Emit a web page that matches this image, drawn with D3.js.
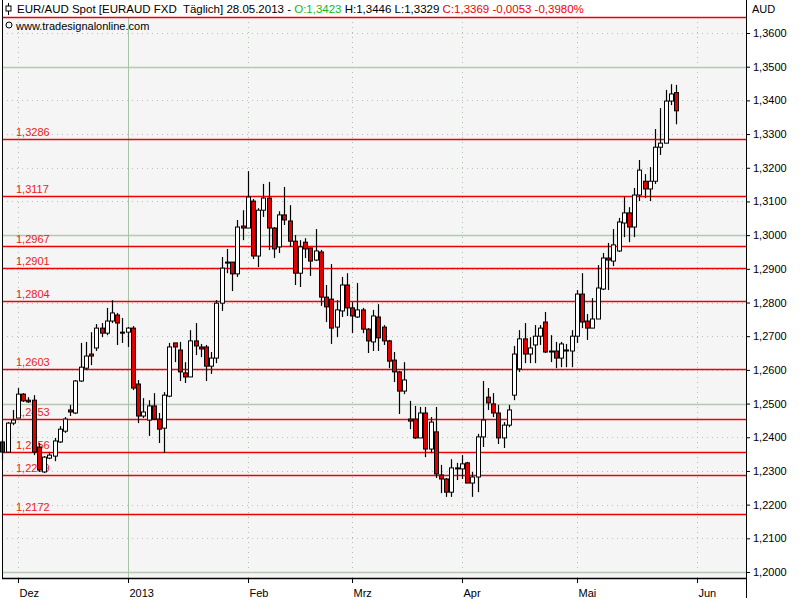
<!DOCTYPE html>
<html>
<head>
<meta charset="utf-8">
<script src="https://cdn.jsdelivr.net/npm/d3@7"></script>
<style>
  body { margin: 0; background: #fff; }
  svg { display: block; font-family: "Liberation Sans", Arial, sans-serif; }
</style>
</head>
<body>
<svg id="chart" width="800" height="600"></svg>
<script>
// daily candles EUR/AUD, 28.11.2012 .. 28.05.2013 (trading-day index)
const opens  = [1.2386,1.2356,1.2442,1.2457,1.2528,1.2510,1.2510,1.2371,1.2297,1.2338,1.2344,1.2386,1.2418,1.2481,1.2472,1.2567,1.2605,1.2647,1.2665,1.2724,1.2709,1.2745,1.2763,1.2712,1.2712,1.2724,1.2558,1.2463,1.2451,1.2493,1.2454,1.2427,1.2522,1.2680,1.2659,1.2591,1.2579,1.2686,1.2668,1.2668,1.2611,1.2635,1.2798,1.2920,1.2920,1.2885,1.3027,1.3021,1.3101,1.2938,1.3074,1.3110,1.3021,1.2965,1.3060,1.3042,1.2982,1.2887,1.2979,1.2962,1.2926,1.2950,1.2816,1.2810,1.2727,1.2775,1.2852,1.2784,1.2757,1.2778,1.2721,1.2683,1.2757,1.2727,1.2686,1.2629,1.2594,1.2537,1.2454,1.2454,1.2398,1.2472,1.2365,1.2416,1.2288,1.2276,1.2237,1.2309,1.2306,1.2324,1.2264,1.2282,1.2401,1.2519,1.2499,1.2472,1.2398,1.2436,1.2525,1.2603,1.2692,1.2647,1.2674,1.2700,1.2742,1.2656,1.2656,1.2635,1.2659,1.2656,1.2700,1.2825,1.2745,1.2724,1.2751,1.2840,1.2932,1.2923,1.2953,1.3036,1.3066,1.3024,1.3119,1.3160,1.3137,1.3160,1.3261,1.3273,1.3398,1.3423];
const highs  = [1.2392,1.2445,1.2481,1.2546,1.2531,1.2519,1.2525,1.2383,1.2344,1.2356,1.2398,1.2433,1.2460,1.2496,1.2570,1.2680,1.2683,1.2712,1.2736,1.2739,1.2784,1.2807,1.2769,1.2754,1.2727,1.2730,1.2570,1.2516,1.2510,1.2531,1.2472,1.2534,1.2680,1.2680,1.2683,1.2623,1.2718,1.2739,1.2677,1.2674,1.2653,1.2807,1.2935,1.2959,1.2920,1.3045,1.3074,1.3190,1.3107,1.3080,1.3152,1.3158,1.3024,1.3071,1.3143,1.3089,1.3000,1.2985,1.2991,1.2962,1.3018,1.2956,1.2852,1.2914,1.2807,1.2876,1.2887,1.2801,1.2858,1.2784,1.2724,1.2778,1.2795,1.2733,1.2689,1.2653,1.2597,1.2623,1.2508,1.2493,1.2490,1.2490,1.2460,1.2490,1.2318,1.2279,1.2335,1.2324,1.2347,1.2327,1.2297,1.2410,1.2567,1.2546,1.2531,1.2496,1.2445,1.2496,1.2671,1.2718,1.2739,1.2697,1.2733,1.2733,1.2772,1.2703,1.2683,1.2683,1.2677,1.2718,1.2837,1.2887,1.2766,1.2813,1.2911,1.2947,1.2977,1.3018,1.3051,1.3113,1.3083,1.3140,1.3223,1.3181,1.3202,1.3315,1.3377,1.3431,1.3448,1.3446];
const lows   = [1.2332,1.2356,1.2436,1.2457,1.2505,1.2502,1.2347,1.2297,1.2294,1.2335,1.2329,1.2383,1.2413,1.2463,1.2469,1.2564,1.2600,1.2614,1.2656,1.2697,1.2703,1.2739,1.2674,1.2680,1.2668,1.2540,1.2442,1.2457,1.2404,1.2451,1.2383,1.2353,1.2519,1.2623,1.2567,1.2561,1.2579,1.2644,1.2638,1.2567,1.2588,1.2620,1.2775,1.2887,1.2834,1.2876,1.2985,1.3021,1.2929,1.2905,1.3054,1.2956,1.2932,1.2947,1.3030,1.2965,1.2852,1.2846,1.2932,1.2879,1.2923,1.2790,1.2742,1.2677,1.2697,1.2757,1.2760,1.2709,1.2754,1.2709,1.2650,1.2656,1.2656,1.2674,1.2605,1.2564,1.2469,1.2528,1.2424,1.2395,1.2398,1.2341,1.2353,1.2279,1.2234,1.2223,1.2223,1.2273,1.2276,1.2264,1.2223,1.2237,1.2371,1.2481,1.2460,1.2380,1.2368,1.2430,1.2510,1.2594,1.2620,1.2620,1.2620,1.2674,1.2650,1.2623,1.2605,1.2608,1.2608,1.2608,1.2680,1.2724,1.2689,1.2724,1.2751,1.2837,1.2837,1.2908,1.2950,1.2994,1.2979,1.2994,1.3101,1.3110,1.3101,1.3152,1.3238,1.3273,1.3386,1.3329];
const closes = [1.2356,1.2442,1.2451,1.2528,1.2508,1.2505,1.2356,1.2303,1.2341,1.2347,1.2389,1.2424,1.2454,1.2475,1.2567,1.2608,1.2641,1.2641,1.2724,1.2709,1.2745,1.2769,1.2739,1.2709,1.2724,1.2546,1.2463,1.2475,1.2493,1.2454,1.2424,1.2525,1.2668,1.2668,1.2594,1.2579,1.2686,1.2671,1.2662,1.2611,1.2635,1.2798,1.2902,1.2917,1.2885,1.3024,1.3021,1.3113,1.2938,1.3074,1.3110,1.3021,1.2959,1.3060,1.3045,1.2982,1.2887,1.2965,1.2959,1.2923,1.2953,1.2816,1.2787,1.2724,1.2778,1.2852,1.2784,1.2760,1.2778,1.2721,1.2686,1.2760,1.2695,1.2686,1.2626,1.2594,1.2537,1.2570,1.2448,1.2398,1.2472,1.2365,1.2445,1.2291,1.2276,1.2237,1.2309,1.2306,1.2321,1.2264,1.2282,1.2401,1.2451,1.2502,1.2472,1.2398,1.2436,1.2481,1.2647,1.2692,1.2647,1.2665,1.2700,1.2724,1.2653,1.2653,1.2635,1.2677,1.2656,1.2700,1.2825,1.2742,1.2724,1.2751,1.2843,1.2932,1.2926,1.2971,1.3039,1.3066,1.3024,1.3119,1.3193,1.3137,1.3160,1.3261,1.3273,1.3398,1.3419,1.3369];

const levels = [1.3286,1.3117,1.2967,1.2901,1.2804,1.2603,1.2453,1.2356,1.2289,1.2172];
const monthLabels = ["Dez","2013","Feb","Mrz","Apr","Mai","Jun"];
const monthIdx = [3,24,47,67,88,110,133];
const yTicks = d3.range(1.20, 1.3601, 0.01);

const fmt = v => d3.format(".4f")(v).replace(".", ",");

const svg = d3.select("#chart");
const plot = {left: 2, right: 746, top: 17, bottom: 578};

const x = d3.scaleLinear().domain([3, 129]).range([18, 676]);
const y = d3.scaleLinear().domain([1.20, 1.36]).range([572, 33]);

svg.append("rect").attr("x", plot.left).attr("y", plot.top)
  .attr("width", plot.right - plot.left).attr("height", plot.bottom - plot.top)
  .attr("fill", "#f5f5f5");

// horizontal grid
yTicks.forEach(t => {
  const major = Math.abs(Math.round(t * 20) - t * 20) < 1e-6;
  svg.append("line")
    .attr("x1", plot.left).attr("x2", plot.right)
    .attr("y1", Math.round(y(t)) + 0.5).attr("y2", Math.round(y(t)) + 0.5)
    .attr("stroke", major ? "#b4c8b4" : "#b8c0b8")
    .attr("stroke-width", major ? 1.5 : 1)
    .attr("stroke-dasharray", major ? null : "1,4");
});

// vertical grid at months
monthIdx.forEach((m, i) => {
  const xx = Math.round(x(m)) + 0.5;
  svg.append("line")
    .attr("x1", xx).attr("x2", xx).attr("y1", plot.top).attr("y2", plot.bottom)
    .attr("stroke", "#a8c4a8")
    .attr("stroke-dasharray", monthLabels[i] === "2013" ? null : "1,4");
  svg.append("line")
    .attr("x1", xx).attr("x2", xx).attr("y1", plot.bottom).attr("y2", plot.bottom + 5)
    .attr("stroke", "#000");
  svg.append("text").attr("x", xx + 1).attr("y", plot.bottom + 19)
    .attr("font-size", 11).attr("fill", "#000").text(monthLabels[i]);
});

// support / resistance levels
levels.forEach(l => {
  const yy = Math.round(y(l)) + 0.5;
  svg.append("line").attr("x1", plot.left).attr("x2", plot.right)
    .attr("y1", yy).attr("y2", yy).attr("stroke", "#ee0000").attr("stroke-width", 1.3);
  svg.append("text").attr("x", 16).attr("y", yy - 4)
    .attr("font-size", 11).attr("fill", "#ee2222").text(fmt(l));
});

// candles
const candles = svg.append("g");
opens.forEach((o, i) => {
  const c = closes[i];
  const cx = Math.round(x(i)) + 0.5;
  candles.append("line").attr("x1", cx).attr("x2", cx)
    .attr("y1", y(highs[i])).attr("y2", y(lows[i]))
    .attr("stroke", "#000").attr("stroke-width", 1.2);
  const top = y(Math.max(o, c)), bot = y(Math.min(o, c));
  candles.append("rect")
    .attr("x", cx - 2).attr("y", top)
    .attr("width", 4).attr("height", Math.max(1, bot - top))
    .attr("fill", c < o ? "#e00000" : "#ffffff")
    .attr("stroke", "#000").attr("stroke-width", 1);
});

// frame
svg.append("line").attr("x1", plot.left).attr("x2", plot.right)
  .attr("y1", plot.top + 0.5).attr("y2", plot.top + 0.5).attr("stroke", "#ee0000").attr("stroke-width", 1.5);
svg.append("line").attr("x1", plot.left + 0.5).attr("x2", plot.left + 0.5)
  .attr("y1", 0).attr("y2", plot.bottom).attr("stroke", "#000");
svg.append("line").attr("x1", plot.left).attr("x2", plot.right)
  .attr("y1", plot.bottom + 0.5).attr("y2", plot.bottom + 0.5).attr("stroke", "#000").attr("stroke-width", 1.5);
svg.append("line").attr("x1", plot.right + 0.5).attr("x2", plot.right + 0.5)
  .attr("y1", 0).attr("y2", plot.bottom + 20).attr("stroke", "#000");

// right axis
const axis = svg.append("g").attr("transform", `translate(${plot.right},0)`)
  .call(d3.axisRight(y).tickValues(yTicks).tickFormat(fmt).tickSize(4).tickPadding(3));
axis.select(".domain").remove();
axis.selectAll("text").attr("font-size", 11).attr("fill", "#000")
  .attr("font-family", "Liberation Sans, Arial, sans-serif");
svg.append("text").attr("x", 752).attr("y", 13).attr("font-size", 11).text("AUD");

// header
const head = svg.append("text").attr("x", 17).attr("y", 13).attr("font-size", 11.5);
head.append("tspan").attr("fill", "#000").text("EUR/AUD Spot [EURAUD FXD  Täglich] 28.05.2013 - ");
head.append("tspan").attr("fill", "#11bb11").text("O:1,3423");
head.append("tspan").attr("fill", "#000").text(" H:1,3446 L:1,3329 ");
head.append("tspan").attr("fill", "#ee0000").text("C:1,3369 -0,0053 -0,3980%");
head.attr("style", "white-space:pre");
svg.append("line").attr("x1", 8.5).attr("x2", 8.5).attr("y1", 3).attr("y2", 15).attr("stroke", "#000");
svg.append("rect").attr("x", 6).attr("y", 6).attr("width", 5).attr("height", 5)
  .attr("fill", "#fff").attr("stroke", "#000");
svg.append("text").attr("x", 16).attr("y", 30).attr("font-size", 11).text("www.tradesignalonline.com");
svg.append("circle").attr("cx", 9).attr("cy", 25).attr("r", 3).attr("fill", "none").attr("stroke", "#000");
</script>
</body>
</html>
